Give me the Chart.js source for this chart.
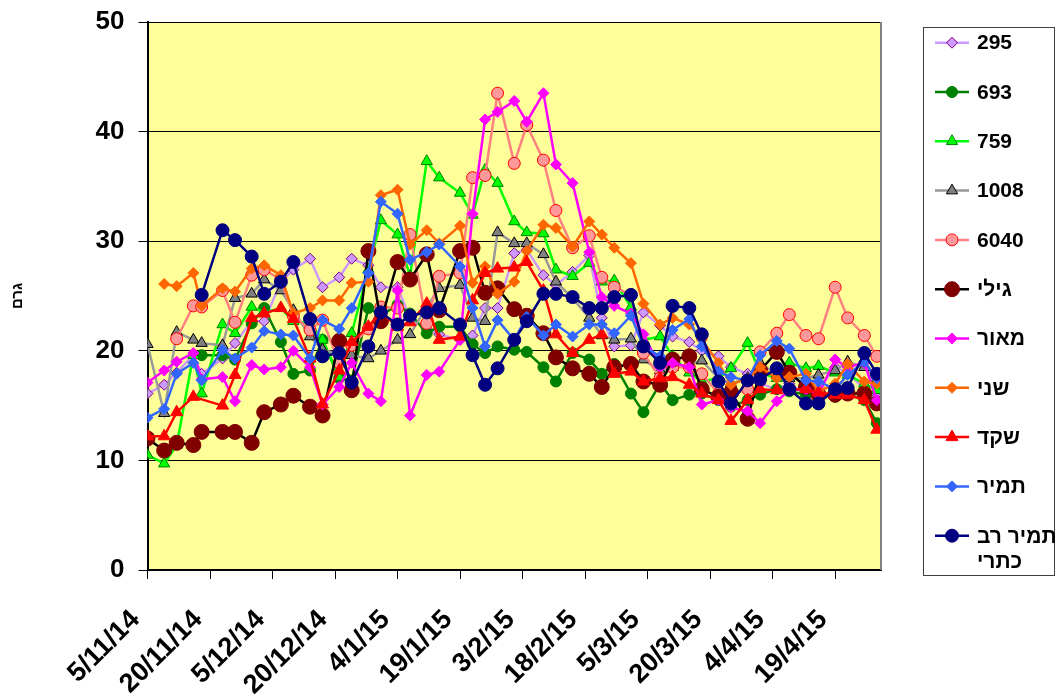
<!DOCTYPE html>
<html>
<head>
<meta charset="utf-8">
<script src="https://cdn.jsdelivr.net/npm/chart.js@4.4.1/dist/chart.umd.min.js"></script>
<style>
  body { margin: 0; background: #fff; }
  #wrap { width: 1057px; height: 700px; }
</style>
</head>
<body>
<div id="wrap"><canvas id="myChart" width="1057" height="700"></canvas></div>
<script>
// days after 5/11/14 for every measurement
const days = [0, 4, 7, 11, 13, 18, 21, 25, 28, 32, 35, 39, 42, 46, 49, 53, 56, 60, 63, 67,
  70, 75, 78, 81, 84, 88, 91, 95, 98, 102, 106, 109, 112, 116, 119, 123, 126, 130, 133, 137,
  140, 144, 147, 151, 154, 158, 161, 165, 168, 172, 175];

const names = ['295', '693', '759', '1008', '6040', 'גילי', 'מאור', 'שני', 'שקד', 'תמיר', 'תמיר רב כתרי'];

const s295 = [16.1, 16.9, 18.0, 19.6, 17.9, 19.3, 20.7, 22.7, 22.7,
  26.3, 27.4, 28.4, 25.8, 26.7, 28.4, 27.8, 25.8, 25.8, 23, 22,
  21.5, 21, 21.4, 23.9, 23.9, 28.9, 29.2, 26.9, 26, 27.2,
  28.7, 23, 20.4, 20.5, 23.5, 22.3, 21.3, 20.8, 20, 19.5,
  18.5, 17.9, 17, 16.5, 17, 16, 16.5, 18.5, 18, 16.5, 15.8];
const s693 = [null, null, null, null, 19.6, 19.6, 19.2, 22.5, 23.9,
  20.8, 17.9, 18.2, 21.0, 17.5, 17.3, 23.9, 23.2, 24.2, 23.4, 21.6,
  22.2, 22.2, 20.6, 19.8, 20.4, 20.1, 19.9, 18.5, 17.2, 19.8,
  19.2, 17.9, 18.8, 16.1, 14.4, 17.0, 15.5, 16.0, 16.1, 15.5,
  14.9, 15.5, 16, 16.5, 16.3, 16, 16, 15.8, 16, 15.5, 13.4];
const s759 = [10.5, 9.7, 11.4, 19.6, 16.1, 22.4, 21.6, 24.0, 23.5,
  23.9, 22.7, 22.5, 21.0, 17.6, 21.6, 27.4, 31.9, 30.6, 26.8, 37.3,
  35.8, 34.4, 32.4, 36.5, 35.3, 31.8, 30.8, 30.7, 27.4, 26.8,
  28.0, 26.3, 26.4, 24, 21.0, 21.3, 19.5, 18, 17.2, 17.5,
  18.4, 20.7, 18, 17.5, 18.9, 18.4, 18.6, 18, 17.8, 17, 16.4];
const s1008 = [20.6, 14.3, 21.7, 21.0, 20.7, 20.5, 24.8, 25.2, 26.5,
  25.5, 23.7, 21.3, 20.1, 19.7, 19.6, 19.3, 20, 21, 21.5, 24.0,
  25.7, 26, 23, 22.7, 30.8, 29.8, 29.8, 28.8, 26.3, 24.8,
  23, 21.4, 21.0, 21.1, 19.2, 18.2, 18.5, 18.8, 19.1, 17.5,
  17, 17.5, 18.9, 17.8, 17.5, 17.5, 17.8, 18.2, 19.0, 18.5, 17.5];
const s6040 = [null, null, 21.1, 24.1, 24.0, 25.5, 22.6, 26.9, 27.4,
  26.5, 23.2, 21.9, 22.8, 18.9, 20.5, 22.0, 24.0, 23.9, 30.6, 22.5,
  26.8, 27.1, 35.8, 36.0, 43.5, 37.1, 40.6, 37.4, 32.8, 29.4,
  30.5, 26.7, 25.8, 25.1, 19.8, 17.5, 18.5, 18.5, 17.9, 16.1,
  16, 16.5, 19.9, 21.6, 23.3, 21.4, 21.1, 25.8, 23.0, 21.4, 19.5];
const sGili = [12.0, 10.9, 11.6, 11.4, 12.6, 12.6, 12.6, 11.6, 14.4,
  15.1, 15.9, 14.9, 14.1, 20.9, 16.4, 29.1, 22.7, 28.1, 26.5, 28.8,
  23.7, 29.1, 29.4, 25.3, 25.7, 23.8, 23.2, 21.6, 19.4, 18.4,
  17.9, 16.7, 18.5, 18.8, 17.2, 16.9, 19.2, 19.5, 16.5, 15.8,
  16.2, 13.8, 18.2, 19.9, 18.0, 16.7, 16, 16.0, 16.1, 16.1, 15.2];
const sMaor = [17.1, 18.2, 19.0, 19.8, 17.4, 17.6, 15.4, 18.7, 18.3,
  18.5, 20.0, 18.5, 15.1, 16.7, 18.9, 16.1, 15.4, 25.5, 14.1, 17.8,
  18.1, 21, 32.5, 41.1, 41.8, 42.8, 40.9, 43.5, 37.0, 35.3,
  29, 24.9, 24.1, 23.4, 21.5, 18.5, 18.9, 18.5, 15.1, 15.5,
  14.8, 14.5, 13.4, 15.4, 16.4, 16.5, 16, 19.2, 18.5, 18.9, 15.5];
const sShani = [null, 26.1, 25.9, 27.1, 24.1, 25.7, 25.4, 27.5, 27.8,
  26.9, 23.4, 23.9, 24.6, 24.6, 26.2, 26.3, 34.2, 34.7, 29.7, 31.0,
  29.8, 31.4, 26.2, 27.7, 25.2, 26.3, 29.1, 31.5, 31.2, 29.5,
  31.8, 30.6, 29.4, 28.0, 24.3, 22.4, 23.0, 22.4, 21.0, 18.9,
  16.9, 17.5, 18.5, 17.5, 17.6, 17.9, 16.3, 17, 18.8, 17.2, 17.0];
const sShaked = [12.2, 12.2, 14.4, 15.8, null, 15.0, 17.8, 23.0, 23.4,
  23.9, 22.9, 19.3, 15.1, 18.2, 20.8, 22.2, 23.5, 22.2, 22.6, 24.3,
  21.0, 21.3, 24.6, 27.1, 27.5, 27.6, 28.1, 25.5, 21.5, 19.8,
  21, 21.5, 17.9, 18.1, 17.2, 17.5, 17.6, 16.9, 16.1, 15.5,
  13.6, 15.5, 16.5, 16.4, 16.5, 16.5, 16.2, 16, 16, 15.5, 12.8];
const sTamir = [13.9, 14.7, 17.9, 18.9, 17.3, 20.1, 19.3, 20.3, 21.8,
  21.5, 21.4, 19.3, 22.8, 22.0, 23.9, 27.1, 33.6, 32.5, 28.3, 29.0,
  29.7, 27.7, 23.9, 20.4, 22.8, 21.0, 23.1, 21.4, 22.4, 21.3,
  22.4, 22.4, 21.6, 23.2, 20.4, 19.5, 21.9, 22.9, 20.4, 18.1,
  17.6, 17.3, 19.6, 20.9, 20.2, 17.3, 17.2, 16.5, 17.8, 19.0, 17.5];
const sTamirRav = [null, null, null, null, 25.1, 31.0, 30.1, 28.6, 25.2,
  26.3, 28.1, 22.9, 19.5, 19.8, 17.1, 20.4, 23.5, 22.4, 23.2, 23.5,
  23.9, 22.4, 19.6, 16.9, 18.4, 21.0, 22.7, 25.2, 25.2, 24.9,
  23.9, 23.9, 24.9, 25.1, 20.4, 18.9, 24.1, 23.9, 21.5, 17.2,
  15.2, 17.3, 17.4, 18.4, 16.5, 15.2, 15.2, 16.5, 16.6, 19.8, 17.9];

const yTicks = [0, 10, 20, 30, 40, 50];
const xStep = 15;

const allValues = [s295, s693, s759, s1008, s6040, sGili, sMaor, sShani, sShaked, sTamir, sTamirRav];

// line colour, marker, marker fill, marker border, radius
const looks = [
  ['#CC99FF', 'rectRot', '#CC99FF', '#800080', 5.5],
  ['#008000', 'circle', '#008000', '#008000', 5.5],
  ['#00FF00', 'triangle', '#00FF00', '#008000', 6.5],
  ['#999999', 'triangle', '#808080', '#000000', 6.5],
  ['#FF8080', 'circle', '#FF9999', '#FF0000', 6],
  ['#000000', 'circle', '#800000', '#800000', 7.5],
  ['#FF00FF', 'rectRot', '#FF00FF', '#FF00FF', 5.5],
  ['#FF6600', 'rectRot', '#FF6600', '#FF6600', 5.5],
  ['#FF0000', 'triangle', '#FF0000', '#FF0000', 7],
  ['#3366FF', 'rectRot', '#3366FF', '#3366FF', 5.5],
  ['#000080', 'circle', '#000080', '#000080', 6.5]
];

const toDate = (v) => {
  const dt = new Date(Date.UTC(2014, 10, 5) + v * 86400000);
  return dt.getUTCDate() + '/' + (dt.getUTCMonth() + 1) + '/' + String(dt.getUTCFullYear()).slice(2);
};

const datasets = allValues.map((vals, i) => ({
  label: names[i],
  data: days.map((d, j) => ({ x: d, y: vals[j] })).filter(p => p.y !== null),
  borderColor: looks[i][0],
  borderWidth: 2.5,
  pointStyle: looks[i][1],
  pointBackgroundColor: looks[i][2],
  pointBorderColor: looks[i][3],
  pointBorderWidth: 1,
  pointRadius: looks[i][4],
  tension: 0,
  order: allValues.length - i
}));

const plotBack = {
  id: 'plotBack',
  beforeDraw(chart) {
    const { ctx, chartArea: a } = chart;
    ctx.save();
    ctx.fillStyle = '#FFFF99';
    ctx.fillRect(a.left, a.top, a.right - a.left, a.bottom - a.top);
    ctx.restore();
  },
  afterDatasetsDraw(chart) {
    const { ctx, chartArea: a } = chart;
    ctx.save();
    ctx.strokeStyle = '#808080';
    ctx.lineWidth = 2;
    ctx.beginPath();
    ctx.moveTo(a.right, a.top);
    ctx.lineTo(a.right, a.bottom);
    ctx.stroke();
    ctx.restore();
  }
};

const sideLegend = {
  id: 'sideLegend',
  afterDraw(chart) {
    const ctx = chart.ctx;
    ctx.save();
    ctx.strokeStyle = '#404040';
    ctx.lineWidth = 1;
    ctx.strokeRect(923.5, 27.5, 131, 548);
    ctx.font = 'bold 21px Arial, "Liberation Sans", sans-serif';
    ctx.textBaseline = 'middle';
    ctx.textAlign = 'left';
    names.forEach((n, i) => {
      const y = 42.7 + i * 49.3;
      ctx.strokeStyle = looks[i][0];
      ctx.lineWidth = 2.5;
      ctx.beginPath();
      ctx.moveTo(935, y);
      ctx.lineTo(969, y);
      ctx.stroke();
      ctx.fillStyle = looks[i][2];
      ctx.strokeStyle = looks[i][3];
      ctx.lineWidth = 1;
      Chart.helpers.drawPoint(ctx, { pointStyle: looks[i][1], rotation: 0, radius: looks[i][4], borderWidth: 1 }, 952, y);
      ctx.fillStyle = '#000';
      if (i === names.length - 1) {
        ctx.fillText('תמיר רב', 977, y + 2);
        ctx.fillText('כתרי', 977, y + 27);
      } else {
        ctx.fillText(n, 977, y + 1);
      }
    });
    ctx.restore();
  }
};

new Chart(document.getElementById('myChart'), {
  type: 'line',
  data: { datasets },
  options: {
    responsive: false,
    animation: false,
    layout: { padding: { top: 22, right: 176, bottom: 0, left: 0 } },
    plugins: { legend: { display: false }, tooltip: { enabled: false } },
    scales: {
      x: {
        type: 'linear',
        min: 0,
        max: 176,
        afterFit: (s) => { s.height = 130; },
        grid: { drawOnChartArea: false, color: '#000', tickLength: 9 },
        border: { color: '#000', width: 2 },
        ticks: {
          stepSize: xStep,
          includeBounds: false,
          autoSkip: false,
          maxRotation: 45,
          minRotation: 45,
          padding: 25,
          labelOffset: -12,
          color: '#000',
          font: { family: 'Arial, "Liberation Sans", sans-serif', size: 27, weight: 'bold' },
          callback: (v) => toDate(v)
        }
      },
      y: {
        min: yTicks[0],
        max: yTicks[yTicks.length - 1],
        afterFit: (s) => { s.width = 147.5; s.paddingTop = 0; s.paddingBottom = 0; },
        grid: { color: '#000', tickLength: 9 },
        border: { color: '#000', width: 2 },
        ticks: {
          stepSize: 10,
          padding: 14,
          color: '#000',
          font: { family: 'Arial, "Liberation Sans", sans-serif', size: 26, weight: 'bold' }
        },
        title: {
          display: true,
          text: 'גרם',
          color: '#000',
          padding: { top: 9, bottom: 0 },
          font: { family: 'Arial, "Liberation Sans", sans-serif', size: 15, weight: 'bold' }
        }
      }
    }
  },
  plugins: [plotBack, sideLegend]
});
</script>
</body>
</html>
